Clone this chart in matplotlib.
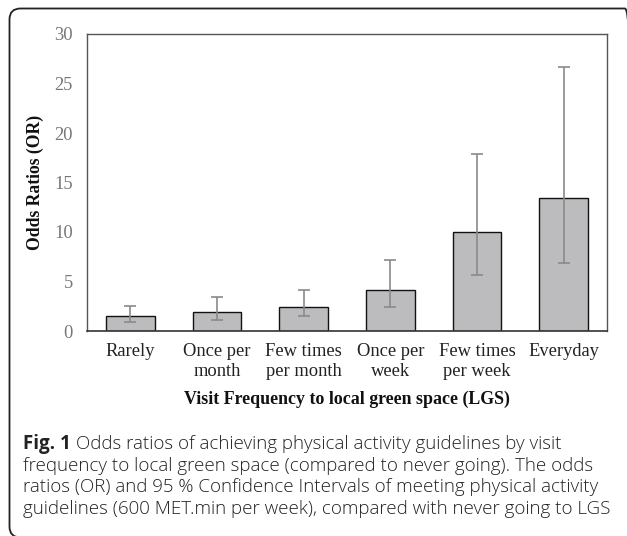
import matplotlib
matplotlib.use("Agg")
import matplotlib.pyplot as plt
from matplotlib.patches import FancyBboxPatch
import numpy as np

categories = ["Rarely", "Once per\nmonth", "Few times\nper month", "Once per\nweek", "Few times\nper week", "Everyday"]
odds_ratios = [1.55, 1.95, 2.45, 4.15, 10.0, 13.45]
ci_lower = [0.95, 1.1, 1.5, 2.4, 5.65, 6.85]
ci_upper = [2.55, 3.45, 4.1, 7.15, 17.85, 26.7]
yticks = [0, 5, 10, 15, 20, 25, 30]

W, H = 627, 536
fig = plt.figure(figsize=(W / 100, H / 100), dpi=100)

# outer rounded frame (pixel coordinates, origin bottom-left)
frame = FancyBboxPatch((9.5, -1.5), 636 - 9.5, (H - 8.5) + 1.5,
                       boxstyle="round,pad=0,rounding_size=11",
                       transform=None, fill=False, edgecolor="#222222",
                       linewidth=1.3, clip_on=False)
fig.patches.append(frame)

ax = fig.add_axes([87 / W, 1 - 331 / H, (607 - 87) / W, (331 - 34) / H])
x = np.arange(len(categories))
vals = np.array(odds_ratios)
yerr = np.array([vals - np.array(ci_lower), np.array(ci_upper) - vals])
ax.bar(x, vals, width=0.565, color="#bcbcbf", edgecolor="#111111", linewidth=1.0, zorder=2)
ax.errorbar(x, vals, yerr=yerr, fmt="none", ecolor="#8a8a8a", elinewidth=1.2,
            capsize=4, capthick=1.2, zorder=3)
ax.set_xlim(-0.5, len(categories) - 0.5)
ax.set_ylim(0, 30)
ax.set_yticks(yticks)
ax.set_xticks(x)
ax.set_xticklabels(categories, fontfamily="Liberation Serif", fontsize=13.3,
                   color="#222222", linespacing=1.2)
ax.set_yticklabels([str(t) for t in yticks], fontfamily="Liberation Serif", fontsize=13.3,
                   color="#777777")
ax.tick_params(axis="both", length=0)
ax.tick_params(axis="y", pad=10)
ax.tick_params(axis="x", pad=9)
for s in ax.spines.values():
    s.set_color("#555555")
    s.set_linewidth(1.0)
ax.spines["bottom"].set_color("#333333")
ax.spines["bottom"].set_linewidth(1.2)

ax.set_ylabel("Odds Ratios (OR)", fontfamily="Liberation Serif", fontsize=12.7,
              fontweight="bold", color="#111111")
ax.yaxis.set_label_coords(-(87 - 44) / (607 - 87), 0.5)
fig.text(347 / W, 1 - 399 / H, "Visit Frequency to local green space (LGS)",
         fontfamily="Liberation Serif", fontsize=12.9, fontweight="bold",
         color="#111111", ha="center", va="center")

cap_lines = [
    "frequency to local green space (compared to never going). The odds",
    "ratios (OR) and 95 % Confidence Intervals of meeting physical activity",
    "guidelines (600 MET.min per week), compared with never going to LGS",
]
x0 = 23 / W
fs = 13.5
t = fig.text(x0, 1 - 444 / H, "Fig. 1", fontfamily="Open Sans", fontsize=fs,
             fontweight="bold", color="#222222", ha="left", va="center")
fig.canvas.draw()
bb = t.get_window_extent()
fig.text((bb.x1 + 5) / W, 1 - 444 / H,
         "Odds ratios of achieving physical activity guidelines by visit",
         fontfamily="Open Sans", fontsize=fs, fontweight="light", color="#222222",
         ha="left", va="center")
for i, line in enumerate(cap_lines):
    fig.text(x0, 1 - (466 + 21.5 * i) / H, line, fontfamily="Open Sans", fontsize=fs,
             fontweight="light", color="#222222", ha="left", va="center")

fig.savefig("out.png", dpi=100)
